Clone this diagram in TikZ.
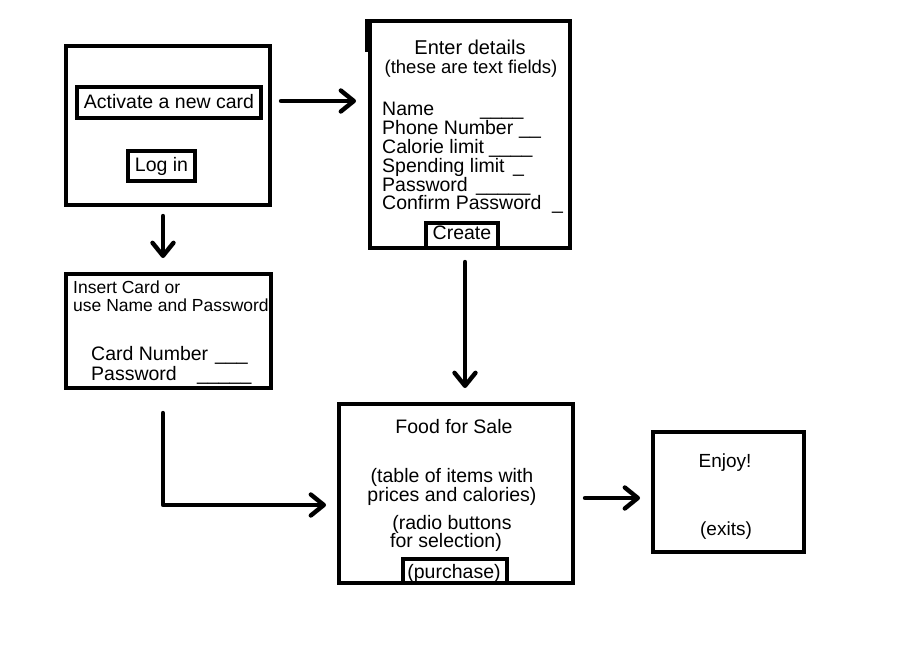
\documentclass[tikz,border=0pt]{standalone}
\usepackage{fontspec}
\setmainfont{Liberation Sans}
\usetikzlibrary{arrows.meta}
\begin{document}
\begin{tikzpicture}[x=1pt,y=-1pt,
  box/.style={draw=black, line width=4.6pt, inner sep=0pt, minimum width=#1},
  btn/.style={draw=black, line width=4.6pt, inner sep=0pt},
  bracket/.style={draw=black, line width=4.6pt, line cap=butt, line join=miter},
  lbl/.style={inner sep=0pt, anchor=base, font=\fontsize{19.5}{22}\selectfont},
  lblw/.style={inner sep=0pt, anchor=base west, font=\fontsize{19.5}{22}\selectfont},
  smallw/.style={inner sep=0pt, anchor=base west, font=\fontsize{17.5}{20}\selectfont},
  flow/.style={line width=4.4pt, line cap=round, line join=round,
    -{Straight Barb[length=13pt,width=21pt,round]}}]
\useasboundingbox (0,0) rectangle (922,654);
\fill[white] (0,0) rectangle (922,654);

% Box A: start screen
\node[box=204pt, minimum height=159pt] (boxA) at (168,125.5) {};
\node[btn, minimum width=184pt, minimum height=31pt] (act) at (169,102.5) {};
\node[lbl] (actT) at (169,108) {Activate a new card};
\node[btn, minimum width=67pt, minimum height=30pt] (login) at (161.5,166) {};
\node[lbl] (loginT) at (161.5,171) {Log in};

% Box B: enter details
\node[box=200pt, minimum height=227pt] (boxB) at (470,134.5) {};
\draw[bracket, line width=3pt] (366.5,19) -- (366.5,52);
\node[lbl, font=\fontsize{20}{22}\selectfont] (bT1) at (470,54) {Enter details};
\node[lbl, font=\fontsize{18.5}{21}\selectfont] (bT2) at (471,73) {(these are text fields)};
\node[lblw] (f1) at (382,115) {Name};
\node[lblw] (u1) at (480,115) {\_\_\_\_};
\node[lblw] (f2) at (382,134) {Phone Number};
\node[lblw] (u2) at (519,134) {\_\_};
\node[lblw] (f3) at (382,153) {Calorie limit};
\node[lblw] (u3) at (489,153) {\_\_\_\_};
\node[lblw] (f4) at (382,172) {Spending limit};
\node[lblw] (u4) at (513,172) {\_};
\node[lblw] (f5) at (382,191) {Password};
\node[lblw] (u5) at (476,191) {\_\_\_\_\_};
\node[lblw] (f6) at (382,209.5) {Confirm Password};
\node[lblw] (u6) at (552,209.5) {\_};
\draw[bracket] (426,249) -- (426,223) -- (498,223) -- (498,249);
\node[lbl] (create) at (462,239) {Create};

% Box C: log in
\node[box=205pt, minimum height=114pt] (boxC) at (168.5,331) {};
\node[smallw] (cT1) at (73,293) {Insert Card or};
\node[smallw] (cT2) at (73,311) {use Name and Password};
\node[lblw] (c1) at (91,360) {Card Number};
\node[lblw] (cu1) at (215,360) {\_\_\_};
\node[lblw] (c2) at (91,380) {Password};
\node[lblw] (cu2) at (197,380) {\_\_\_\_\_};

% Box D: food for sale
\node[box=234pt, minimum height=179pt] (boxD) at (456,493.5) {};
\node[lbl] (dT1) at (454,433) {Food for Sale};
\node[lbl] (dT2) at (452,482) {(table of items with};
\node[lbl] (dT3) at (452,501) {prices and calories)};
\node[lbl] (dT4) at (452,529) {(radio buttons};
\node[lblw] (dT5) at (390,547.5) {for selection)};
\draw[bracket] (403,583) -- (403,559) -- (507,559) -- (507,583);
\node[lbl] (purchase) at (454,578) {(purchase)};

% Box E: enjoy
\node[box=151pt, minimum height=120pt] (boxE) at (728.5,492) {};
\node[lbl, font=\fontsize{19}{22}\selectfont] (eT1) at (725,467) {Enjoy!};
\node[lbl, font=\fontsize{19}{22}\selectfont] (eT2) at (726,535) {(exits)};

% connector end points
\coordinate (ab1) at (281,101);
\coordinate (ab2) at (356,101);
\coordinate (ac1) at (163,216);
\coordinate (ac2) at (163,258);
\coordinate (bd1) at (465,262);
\coordinate (bd2) at (465,388);
\coordinate (cd1) at (163,413);
\coordinate (cd2) at (326,505);
\coordinate (de1) at (585,498);
\coordinate (de2) at (640,498);

\draw[flow] (ab1) -- (ab2);
\draw[flow] (ac1) -- (ac2);
\draw[flow] (bd1) -- (bd2);
\draw[flow] (cd1) |- (cd2);
\draw[flow] (de1) -- (de2);
\end{tikzpicture}
\end{document}
